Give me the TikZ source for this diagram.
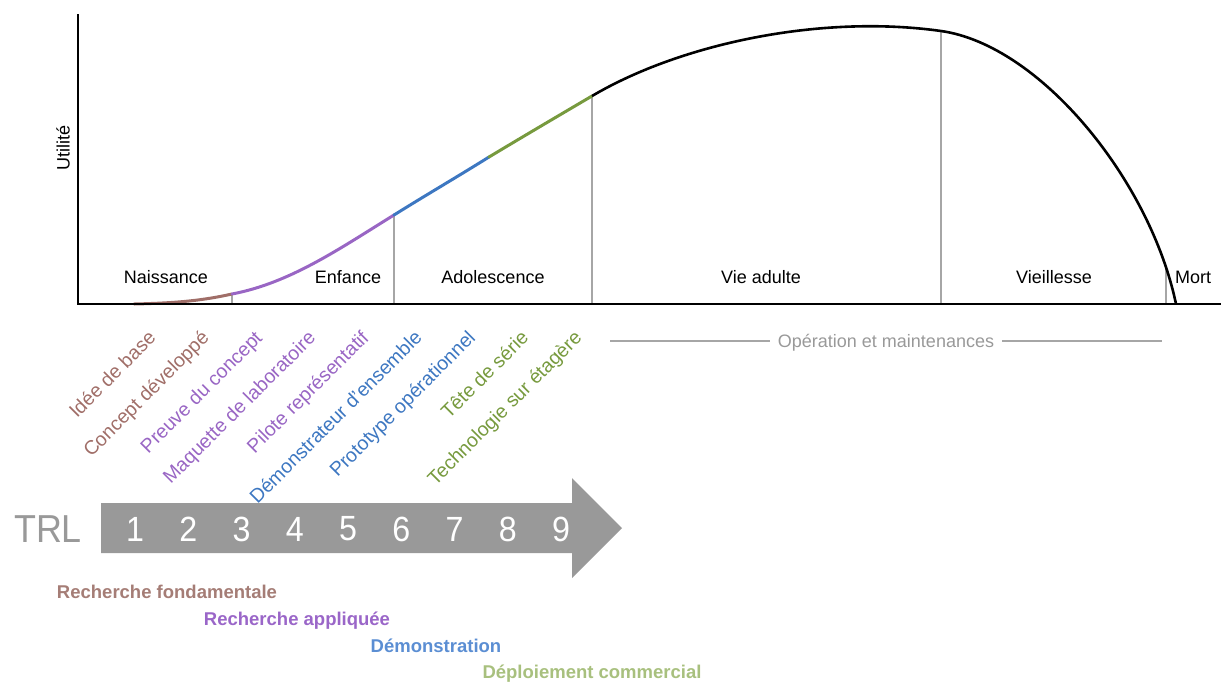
\documentclass[tikz,border=0pt]{standalone}
\usepackage{fontspec}
\setmainfont{Liberation Sans}
\newfontfamily\trlfont[FakeStretch=0.92]{Liberation Sans}
\usetikzlibrary{positioning, calc}
\definecolor{trlbrown}{HTML}{A06E68}
\definecolor{trlpurple}{HTML}{9966C4}
\definecolor{trlblue}{HTML}{3D77C1}
\definecolor{trlgreen}{HTML}{779A3E}
\definecolor{trlgrey}{HTML}{999999}
\definecolor{trlline}{HTML}{A6A6A6}
\definecolor{phbrown}{HTML}{A57D76}
\definecolor{phpurple}{HTML}{9A66C8}
\definecolor{phblue}{HTML}{5B8ED3}
\definecolor{phgreen}{HTML}{A8C07E}
\tikzset{
  stage/.style={font=\fontsize{18}{20}\selectfont, anchor=base, inner sep=0pt},
  level/.style={font=\fontsize{19.5}{22}\selectfont, rotate=45, anchor=base east, inner sep=0pt},
  phase/.style={font=\bfseries\fontsize{18.5}{20}\selectfont, anchor=base, inner sep=0pt},
  guide/.style={trlline, line width=1.2pt},
  life/.style={line width=3pt, line cap=round}
}

\begin{document}
\begin{tikzpicture}[x=1pt, y=-1pt]
      \useasboundingbox (0,0) rectangle (1221,681);
      \coordinate (ytop) at (78,14);
      \coordinate (o) at (78,304);
      \coordinate (xend) at (1221,304);
      \coordinate (p0) at (134,304);
      \coordinate (p1) at (232,294);
      \coordinate (p2) at (394,215);
      \coordinate (p3) at (489,157);
      \coordinate (p4) at (592,96);
      \coordinate (p5) at (941,31);
      \coordinate (p6) at (1176,304);
      \coordinate (p7) at (1166,268);
      \foreach \p in {p1,p2,p4,p5,p7}{ \draw[guide] (\p) -- (\p |- o); }
      \draw[life, trlbrown] (p0) .. controls (180,303) and (205,300) .. (p1);
      \draw[life, trlpurple] (p1) .. controls (290,283) and (339,249) .. (p2);
      \draw[life, trlblue] (p2) .. controls (426,195) and (457,177) .. (p3);
      \draw[life, trlgreen] (p3) .. controls (524,136) and (558,116) .. (p4);
      \draw[line width=2.6pt] (p4) .. controls (680,44) and (820,14) .. (p5)
        .. controls (1040,45) and (1150,180) .. (p6);
      \draw[line width=2.6pt] (ytop) -- (o) -- (xend);
      \node[font=\fontsize{18}{20}\selectfont, rotate=90] (util) at (63,148) {Utilité};
      \node[stage] (naiss) at (166,283) {Naissance};
      \node[stage] (enf) at (348,283) {Enfance};
      \node[stage] (ado) at (493,283) {Adolescence};
      \node[stage] (adult) at (761,283) {Vie adulte};
      \node[stage] (vieil) at (1054,283) {Vieillesse};
      \node[stage] (mort) at (1193,283) {Mort};
      \node[stage, trlgrey] (opm) at (886,347) {Opération et maintenances};
      \coordinate (opl) at (610,341);
      \coordinate (opr) at (1162,341);
      \draw[trlline, line width=2.4pt] (opl) -- ($(opm.west |- opl)+(-8,0)$);
      \draw[trlline, line width=2.4pt] ($(opm.east |- opr)+(8,0)$) -- (opr);
      \foreach \i/\txt/\col in {1/Idée de base/trlbrown, 2/Concept développé/trlbrown,
          3/Preuve du concept/trlpurple, 4/Maquette de laboratoire/trlpurple,
          5/Pilote représentatif/trlpurple, 6/Démonstrateur d'ensemble/trlblue,
          7/Prototype opérationnel/trlblue, 8/Tête de série/trlgreen,
          9/Technologie sur étagère/trlgreen}{
        \node[level, \col] (lvl\i) at ({157+53.25*(\i-1)},339) {\txt};
      }
      \fill[trlgrey] (101,503) -- (572,503) -- (572,478) -- (622,528) -- (572,578)
        -- (572,553) -- (101,553) -- cycle;
      \node[font=\trlfont\fontsize{39}{40}\selectfont, trlgrey] (trl) at (48,529) {TRL};
      \foreach \i in {1,...,9}{
        \node[font=\trlfont\fontsize{35}{36}\selectfont, white] (n\i) at ({135+53.25*(\i-1)},529) {\i};
      }
      \node[phase, phbrown] (fond) at (167,598) {Recherche fondamentale};
      \node[phase, phpurple] (appl) at (297,625) {Recherche appliquée};
      \node[phase, phblue] (demo) at (436,652) {Démonstration};
      \node[phase, phgreen] (depl) at (592,678) {Déploiement commercial};
    \end{tikzpicture}
\end{document}
